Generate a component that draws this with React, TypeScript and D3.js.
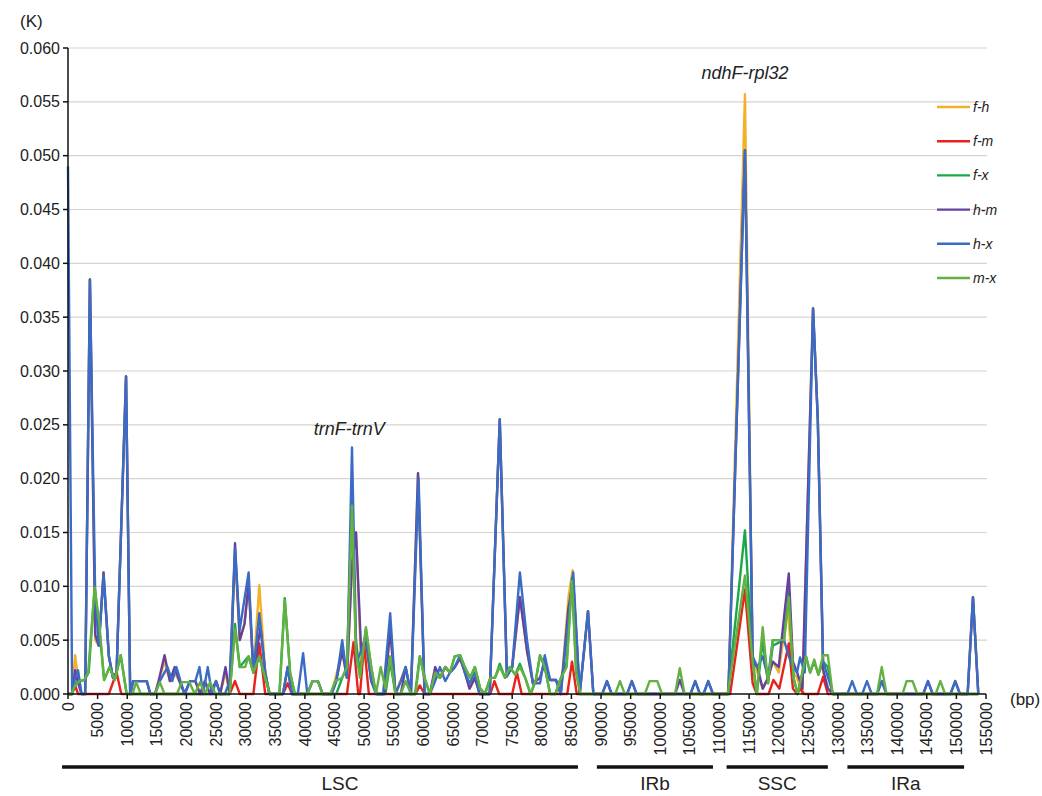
import React from "react";
import * as d3 from "d3";

type P = [number, number];

const seriesNames = ["f-h", "f-m", "f-x", "h-m", "h-x", "m-x"];
const seriesColors = ["#f3b12a", "#e8221c", "#1aa84a", "#6540a0", "#3a6cc5", "#62b142"];

const yTicks = [0, 0.005, 0.01, 0.015, 0.02, 0.025, 0.03, 0.035, 0.04, 0.045, 0.05, 0.055, 0.06];
const xTicks = [0, 5000, 10000, 15000, 20000, 25000, 30000, 35000, 40000, 45000, 50000, 55000, 60000, 65000, 70000, 75000, 80000, 85000, 90000, 95000, 100000, 105000, 110000, 115000, 120000, 125000, 130000, 135000, 140000, 145000, 150000, 155000];

const regionNames = ["LSC", "IRb", "SSC", "IRa"];
const regionStarts = [-1000, 89300, 111200, 131600];
const regionEnds = [86100, 108900, 128300, 151300];

const annotations: { text: string; bp: number; k: number }[] = [
  { text: "trnF-trnV", bp: 47500, k: 0.0241 },
  { text: "ndhF-rpl32", bp: 114300, k: 0.0571 },
];

const fh: P[] = [[0,0],[700,0],[1200,0.0036],[1800,0.001],[2300,0],[2900,0],[3700,0.0385],[4600,0.005],[5200,0.0045],[6000,0.0113],[6900,0.0035],[7600,0.0015],[8200,0.002],[9800,0.0295],[10500,0],[11000,0.0012],[13300,0.0012],[13900,0],[14700,0],[15300,0.0012],[16300,0.003],[17200,0.0012],[18000,0.002],[18800,0.0012],[19700,0],[20600,0.0012],[21500,0.0012],[22300,0],[23100,0.0012],[24000,0],[25000,0.0012],[25700,0],[26600,0.002],[27300,0],[28200,0.013],[29000,0.005],[29800,0.0065],[30500,0.0103],[31300,0.002],[32300,0.0101],[33300,0.002],[34000,0],[36300,0],[37100,0.0025],[37800,0],[44500,0],[46300,0.004],[47100,0.0015],[47950,0.012],[48630,0.015],[49500,0.0025],[50300,0.0045],[51200,0.0012],[52200,0],[53400,0],[54400,0.006],[55300,0],[57000,0.0025],[57900,0],[59100,0.0205],[60200,0],[61100,0],[62000,0.002],[62800,0.0015],[63700,0.0025],[64500,0.002],[65300,0.0025],[66200,0.0033],[67000,0.002],[67800,0.0005],[68700,0.0015],[69500,0],[71200,0],[72900,0.0255],[74100,0.002],[75000,0.0025],[76300,0.009],[77500,0.004],[78500,0.001],[79700,0.0015],[80500,0.003],[81400,0.0013],[82400,0.0013],[83200,0],[84500,0.009],[85200,0.0115],[86400,0],[87800,0.0077],[88700,0],[111500,0],[114300,0.0557],[115600,0.003],[116400,0.002],[117300,0.0005],[118200,0.0015],[119000,0.003],[120000,0.002],[121500,0.008],[122400,0.002],[123100,0.0015],[124000,0],[125800,0.0358],[126600,0.0255],[127500,0.002],[128300,0.0005],[129200,0],[151900,0],[152800,0.009],[153700,0]];

const fm: P[] = [[0,0],[700,0],[1200,0.0008],[1700,0],[6900,0],[8200,0.002],[9000,0],[27300,0],[28200,0.0012],[29000,0],[31300,0],[32300,0.0047],[33300,0],[36300,0],[37100,0.001],[37800,0],[47100,0],[48200,0.0048],[49000,0],[49300,0],[50000,0.0046],[50800,0],[58700,0],[59400,0.0008],[60200,0],[71300,0],[72000,0.0012],[72800,0],[75000,0],[75800,0.002],[76600,0],[84300,0],[85100,0.003],[85900,0],[111800,0],[114300,0.0097],[115600,0.001],[116300,0],[118300,0],[119100,0.0013],[120100,0.0005],[121700,0.0047],[122400,0.0005],[123100,0],[123600,0.0005],[124300,0],[126600,0],[127500,0.0016],[128300,0],[153700,0]];

const fx: P[] = [[0,0],[700,0],[1200,0.001],[2000,0.0012],[2800,0.0013],[3500,0.002],[4500,0.0099],[5300,0.006],[6100,0.0013],[7000,0.0025],[7900,0.0013],[8900,0.0036],[9900,0],[27300,0],[28200,0.0065],[29000,0.0025],[30500,0.0035],[31300,0.002],[32300,0.0035],[33300,0.0015],[34100,0],[35700,0],[36600,0.0089],[37500,0.002],[38300,0],[45300,0],[46300,0.0015],[47100,0.0025],[47950,0.018],[48600,0.005],[49300,0.002],[50300,0.006],[51200,0.0025],[52000,0],[53600,0],[54400,0.003],[55300,0],[58600,0],[59400,0.0035],[60200,0.0015],[61100,0],[62000,0.002],[62800,0.0015],[63700,0.0025],[64500,0.002],[65300,0.0035],[66200,0.0036],[67000,0.0025],[67900,0.0015],[68700,0.0025],[69600,0.0005],[70400,0],[71300,0.0015],[72100,0.0015],[72900,0.0028],[73800,0.0015],[74600,0.0025],[75500,0.0018],[76300,0.0028],[77200,0.0015],[78100,0],[79000,0.0013],[79700,0.0036],[80500,0.0025],[81400,0],[82300,0],[83100,0.0013],[84200,0.003],[85100,0.0108],[85800,0.002],[86500,0],[111400,0],[114300,0.0152],[115600,0.003],[116300,0],[117300,0.005],[118200,0.001],[119000,0.0045],[120900,0.005],[121700,0.0095],[122500,0.0015],[123200,0],[124000,0.002],[124600,0.0035],[125300,0.002],[126000,0.003],[126700,0.0018],[127500,0.003],[128300,0.0025],[129100,0],[153700,0]];

const hm: P[] = [[0,0],[700,0],[1200,0.0022],[1700,0.001],[2300,0],[2900,0],[3700,0.0385],[4600,0.0055],[5200,0.0045],[6000,0.0113],[6900,0.0035],[7600,0.0015],[8200,0.002],[9800,0.0295],[10500,0],[11000,0.0012],[13300,0.0012],[13900,0],[14700,0],[15300,0.0012],[16300,0.0036],[17200,0.0012],[18000,0.0025],[18800,0.0012],[19700,0],[20600,0.0012],[21500,0.0012],[22300,0],[23100,0.0012],[24000,0],[25000,0.0012],[25700,0],[26600,0.0025],[27300,0],[28200,0.014],[29000,0.005],[29800,0.0065],[30500,0.0103],[31300,0.002],[32500,0.0062],[33300,0.002],[34000,0],[36300,0],[37100,0.0025],[37800,0],[40400,0],[41300,0.0012],[42200,0.0012],[43000,0],[44500,0],[45300,0.0012],[46300,0.004],[47100,0.0015],[47950,0.012],[48630,0.015],[49500,0.004],[50300,0.005],[51200,0.0012],[52200,0],[53400,0],[54400,0.006],[55300,0],[56200,0],[57000,0.0025],[57900,0],[59100,0.0205],[60200,0],[61100,0],[62000,0.0025],[62800,0.0015],[63700,0.0025],[64500,0.002],[65300,0.0025],[66200,0.0033],[67000,0.002],[67800,0.0005],[68700,0.0015],[69500,0],[71200,0],[72900,0.0255],[74100,0.002],[75000,0.0025],[76300,0.009],[77500,0.004],[78500,0.001],[79700,0.0015],[80500,0.003],[81400,0.0013],[82400,0.0013],[83200,0],[84500,0.008],[85300,0.0105],[86400,0],[87800,0.0077],[88700,0],[90200,0],[91000,0.0012],[91800,0],[94400,0],[95200,0.0012],[96000,0],[102500,0],[103300,0.0013],[104100,0],[105100,0],[105900,0.0012],[106700,0],[107300,0],[108100,0.0012],[108900,0],[111500,0],[114300,0.0505],[115600,0.003],[116400,0.0025],[117300,0.0005],[118200,0.0015],[119000,0.003],[120000,0.0025],[121700,0.0112],[122400,0.003],[123100,0.002],[124000,0.0005],[125800,0.0358],[126600,0.0255],[127500,0.0023],[128300,0.0005],[129200,0],[136600,0],[137400,0.0012],[138200,0],[144400,0],[145200,0.0012],[146000,0],[149000,0],[149800,0.0012],[150600,0],[151900,0],[152800,0.009],[153700,0]];

const hx: P[] = [[0,0.049],[700,0],[1200,0.0015],[1700,0.0022],[2300,0],[2900,0],[3700,0.0385],[4600,0.009],[5200,0.0045],[6000,0.011],[6900,0.0035],[7600,0.0015],[8200,0.002],[9800,0.0295],[10500,0],[11000,0.0012],[13300,0.0012],[13900,0],[14700,0],[15500,0.0012],[16800,0.0025],[17600,0.0012],[18300,0.0025],[19000,0.0012],[19700,0],[20600,0.0012],[21500,0.0012],[22200,0.0025],[22800,0],[23600,0.0025],[24300,0],[25000,0.0012],[25700,0],[26500,0],[27300,0.0012],[28200,0.0135],[29000,0.006],[30500,0.0113],[31300,0.002],[32300,0.0075],[33300,0.002],[34000,0],[36300,0],[37100,0.0025],[37800,0],[38800,0],[39700,0.0038],[40400,0],[41300,0.0012],[42200,0.0012],[43000,0],[44500,0],[45300,0.0012],[46300,0.005],[47100,0.0015],[47950,0.0229],[48700,0.003],[49500,0.004],[50300,0.0055],[51200,0.0012],[52000,0],[53200,0],[54400,0.0075],[55300,0],[56200,0.0012],[57000,0.0025],[57900,0],[59200,0.02],[60200,0],[61100,0],[62000,0.0012],[62800,0.0025],[63700,0.0012],[64500,0.002],[65300,0.0025],[66200,0.0036],[67000,0.002],[67800,0.001],[68700,0.002],[69500,0],[71200,0],[72900,0.0255],[74100,0.0016],[75000,0.0025],[76300,0.0113],[77500,0.005],[78500,0.001],[79700,0.001],[80500,0.0036],[81400,0.0013],[82400,0.0013],[83200,0],[84500,0.007],[85300,0.0113],[86400,0],[87800,0.0077],[88700,0],[90200,0],[91000,0.0012],[91800,0],[94400,0],[95200,0.0012],[96000,0],[105100,0],[105900,0.0012],[106700,0],[107300,0],[108100,0.0012],[108900,0],[111500,0],[114300,0.0505],[115600,0.0035],[116400,0.0025],[117300,0.0035],[118200,0.0015],[119000,0.005],[120900,0.005],[121700,0.0035],[122400,0.0025],[123100,0.002],[123600,0.0034],[124400,0.002],[125800,0.0358],[126600,0.0255],[127500,0.003],[128300,0.0016],[129200,0],[131600,0],[132400,0.0012],[133200,0],[134100,0],[134900,0.0012],[135700,0],[136600,0],[137400,0.0012],[138200,0],[144400,0],[145200,0.0012],[146000,0],[149000,0],[149800,0.0012],[150600,0],[151900,0],[152800,0.009],[153700,0]];

const mx: P[] = [[0,0],[600,0],[1200,0.0008],[1900,0.0012],[2700,0.0013],[3400,0.002],[4500,0.0099],[5300,0.0065],[6100,0.0013],[7000,0.0025],[7900,0.0013],[8900,0.0036],[9900,0],[10900,0],[11500,0.0011],[12300,0],[14700,0],[15500,0.0011],[16300,0],[18400,0],[19200,0.0011],[20500,0.0011],[21400,0],[22300,0.0011],[23100,0],[24000,0.0011],[24900,0],[27300,0],[28200,0.006],[29000,0.0025],[29900,0.0025],[30500,0.0035],[31300,0.002],[32300,0.0035],[33300,0.0015],[34100,0],[35700,0],[36600,0.0087],[37500,0.002],[38300,0],[40400,0],[41300,0.0012],[42200,0.0012],[43000,0],[44300,0],[45100,0.0012],[46300,0.0015],[47100,0.0025],[47950,0.0175],[48600,0.004],[49300,0.0015],[50300,0.0062],[51200,0.0025],[52000,0],[52800,0.0025],[53600,0.0005],[54400,0.0035],[55300,0],[56200,0],[57000,0.0012],[57900,0],[58700,0],[59400,0.0035],[60200,0.0015],[61100,0],[62000,0.002],[62800,0.0015],[63700,0.0025],[64500,0.002],[65300,0.0035],[66200,0.0036],[67000,0.0025],[67900,0.0015],[68700,0.0025],[69600,0.0005],[70400,0],[71300,0.0015],[72100,0.0015],[72900,0.0025],[73800,0.0015],[74600,0.0025],[75500,0.0018],[76300,0.0025],[77200,0.0015],[78100,0],[79000,0.0013],[79700,0.0036],[80500,0.0025],[81400,0],[82300,0],[83100,0.0013],[84200,0.0025],[85100,0.0105],[85800,0.002],[86500,0],[92400,0],[93200,0.0012],[94000,0],[97400,0],[98200,0.0012],[99500,0.0012],[100300,0],[102500,0],[103300,0.0024],[104100,0],[111400,0],[114300,0.011],[115600,0.003],[116300,0],[117300,0.0062],[118200,0.001],[119000,0.005],[120900,0.005],[121700,0.009],[122500,0.0015],[123200,0],[124000,0.002],[124600,0.0035],[125300,0.002],[126000,0.0032],[126700,0.0018],[127500,0.0036],[128300,0.0036],[129100,0],[136600,0],[137400,0.0025],[138200,0],[140900,0],[141600,0.0012],[142600,0.0012],[143400,0],[146500,0],[147300,0.0012],[148100,0],[153700,0]];

const seriesData: P[][] = [fh, fm, fx, hm, hx, mx];

const W = 1042;
const H = 796;
const FONT = "'Liberation Sans', Arial, sans-serif";

export default function App() {
  const x = d3.scaleLinear().domain([0, 155000]).range([68, 986]);
  const y = d3.scaleLinear().domain([0, 0.06]).range([694, 48]);
  const line = d3
    .line<P>()
    .x((d) => x(d[0]))
    .y((d) => y(d[1]));

  const legendY = d3.scalePoint<string>().domain(seriesNames).range([107, 278]);

  return (
    <svg
      width={W}
      height={H}
      style={{ position: "absolute", left: 0, top: 0, background: "#fff" }}
      fontFamily={FONT}
    >
      <rect x={0} y={0} width={W} height={H} fill="#fff" />
      {yTicks.filter((t) => t > 0).map((t) => (
        <line key={"g" + t} x1={x(0)} x2={987} y1={y(t)} y2={y(t)} stroke="#d8d3cf" strokeWidth={1.2} />
      ))}
      {seriesData.map((d, i) => (
        <path key={seriesNames[i]} d={line(d) || ""} fill="none" stroke={seriesColors[i]} strokeWidth={2.4} strokeLinejoin="round" />
      ))}
      <line x1={x(0)} x2={x(0)} y1={y(0.06)} y2={y(0)} stroke="#111" strokeWidth={1.5} />
      {yTicks.map((t) => (
        <g key={"yt" + t}>
          <line x1={x(0) - 5} x2={x(0)} y1={y(t)} y2={y(t)} stroke="#111" strokeWidth={1.5} />
          <text x={x(0) - 8} y={y(t)} dy="0.35em" textAnchor="end" fontSize={16} fill="#222">
            {t.toFixed(3)}
          </text>
        </g>
      ))}
      <line x1={x(0)} x2={x(155000)} y1={y(0)} y2={y(0)} stroke="#111" strokeWidth={1.5} />
      {xTicks.map((t) => (
        <g key={"xt" + t}>
          <line x1={x(t)} x2={x(t)} y1={y(0)} y2={y(0) + 5} stroke="#111" strokeWidth={1.5} />
          <text
            transform={`translate(${x(t)},${y(0) + 8}) rotate(-90)`}
            dy="0.35em"
            textAnchor="end"
            fontSize={16}
            fill="#222"
          >
            {String(t)}
          </text>
        </g>
      ))}
      <text x={20} y={27} fontSize={17} fill="#222">(K)</text>
      <text x={1010} y={705} fontSize={17} fill="#222">(bp)</text>
      {annotations.map((a) => (
        <text key={a.text} x={x(a.bp)} y={y(a.k)} textAnchor="middle" fontSize={18} fontStyle="italic" fill="#222">
          {a.text}
        </text>
      ))}
      {regionNames.map((r, i) => (
        <g key={r}>
          <line x1={x(regionStarts[i])} x2={x(regionEnds[i])} y1={767} y2={767} stroke="#111" strokeWidth={3.5} />
          <text x={(x(regionStarts[i]) + x(regionEnds[i])) / 2 + (i === 0 ? 20 : 0)} y={790} textAnchor="middle" fontSize={19} fill="#222">
            {r}
          </text>
        </g>
      ))}
      {seriesNames.map((n, i) => (
        <g key={"lg" + n}>
          <line x1={937} x2={970} y1={legendY(n)!} y2={legendY(n)!} stroke={seriesColors[i]} strokeWidth={2.4} />
          <text x={973} y={legendY(n)!} dy="0.35em" fontSize={14} fontStyle="italic" fill="#222">
            {n}
          </text>
        </g>
      ))}
    </svg>
  );
}
